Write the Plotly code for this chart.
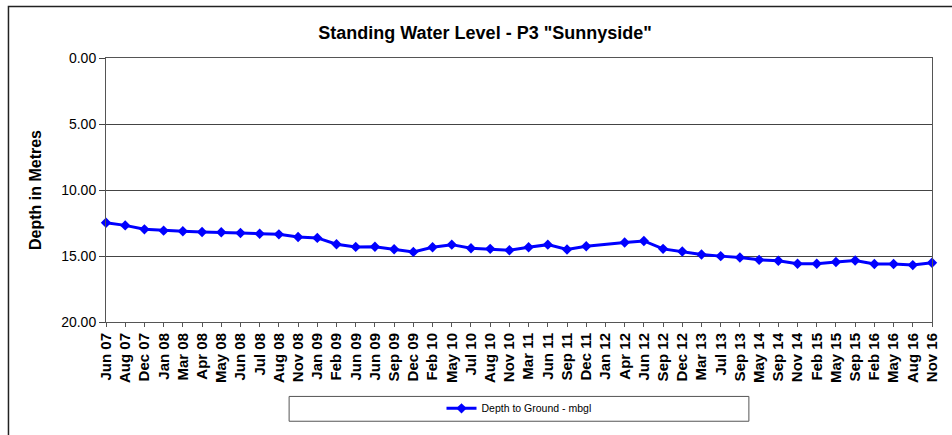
import plotly.graph_objects as go

labels = ["Jun 07", "Aug 07", "Dec 07", "Jan 08", "Mar 08", "Apr 08", "May 08", "Jun 08",
          "Jul 08", "Aug 08", "Nov 08", "Jan 09", "Feb 09", "Jun 09", "Jun 09", "Sep 09",
          "Dec 09", "Feb 10", "May 10", "Jul 10", "Aug 10", "Nov 10", "Mar 11", "Jun 11",
          "Sep 11", "Dec 11", "Jan 12", "Apr 12", "Jun 12", "Sep 12", "Dec 12", "Mar 13",
          "Jul 13", "Sep 13", "May 14", "Sep 14", "Nov 14", "Feb 15", "May 15", "Sep 15",
          "Feb 16", "May 16", "Aug 16", "Nov 16"]
depth = [12.48, 12.68, 12.98, 13.08, 13.13, 13.18, 13.20, 13.26,
         13.31, 13.36, 13.56, 13.63, 14.11, 14.31, 14.30, 14.49,
         14.69, 14.34, 14.14, 14.41, 14.46, 14.56, 14.34, 14.14,
         14.51, 14.26, None, 13.98, 13.86, 14.46, 14.66, 14.89,
         15.01, 15.11, 15.29, 15.36, 15.59, 15.59, 15.46, 15.34,
         15.61, 15.61, 15.69, 15.51]
yticks = [0, 5, 10, 15, 20]
ytick_text = ["0.00", "5.00", "10.00", "15.00", "20.00"]

idx = list(range(len(labels)))

fig = go.Figure()
fig.add_trace(go.Scatter(
    x=idx, y=depth, mode="lines+markers", name="Depth to Ground - mbgl",
    connectgaps=True, cliponaxis=False,
    line=dict(color="#0000FF", width=3),
    marker=dict(symbol="diamond", size=8, color="#0000FF"),
))

FONT = "Arial, Liberation Sans, sans-serif"
fig.update_layout(
    width=952, height=435,
    margin=dict(l=106, r=16, t=58, b=111),
    paper_bgcolor="white", plot_bgcolor="white",
    font=dict(family=FONT, color="black"),
    title=dict(text='Standing Water Level - P3 "Sunnyside"', x=485/952, xanchor="center",
               xref="container", y=1 - 33/435, yanchor="middle",
               font=dict(size=18, weight="bold", family=FONT, color="black")),
    showlegend=True,
    legend=dict(orientation="h", x=0.5, xanchor="center", y=-0.327, yanchor="middle",
                font=dict(size=10.5, family=FONT), bgcolor="rgba(0,0,0,0)"),
    xaxis=dict(range=[0, 43], tickmode="array", tickvals=idx, ticktext=labels,
               tickangle=-90, tickfont=dict(size=15, weight="bold", family=FONT),
               showgrid=False, ticks="outside", ticklen=4, tickcolor="#555",
               showline=True, linecolor="#555", linewidth=1, mirror=True, zeroline=False),
    yaxis=dict(range=[20, 0], tickmode="array", tickvals=yticks, ticktext=ytick_text,
               tickfont=dict(size=14, family=FONT), ticks="outside", ticklen=6, tickcolor="#444",
               showgrid=True, gridcolor="#444", gridwidth=1,
               showline=True, linecolor="#555", linewidth=1, mirror=True, zeroline=False,
               title=dict(text="Depth in Metres", font=dict(size=16, weight="bold", family=FONT),
                          standoff=15)),
)

# outer chart frame (partially visible)
fig.add_shape(type="rect", xref="paper", yref="paper",
              x0=(8 - 106) / 830, x1=1.2, y0=-0.6, y1=(324 - 6) / 266,
              line=dict(color="#222", width=1.5), layer="below")
# legend box
fig.add_shape(type="rect", xref="paper", yref="paper",
              x0=(290 - 106) / 830, x1=(752 - 106) / 830,
              y0=(324 - 424) / 266, y1=(324 - 399) / 266,
              line=dict(color="#555", width=1))

fig.write_html("out.html", config={"displayModeBar": False},
               post_script="document.body.style.margin='0';document.body.style.overflow='hidden';")
